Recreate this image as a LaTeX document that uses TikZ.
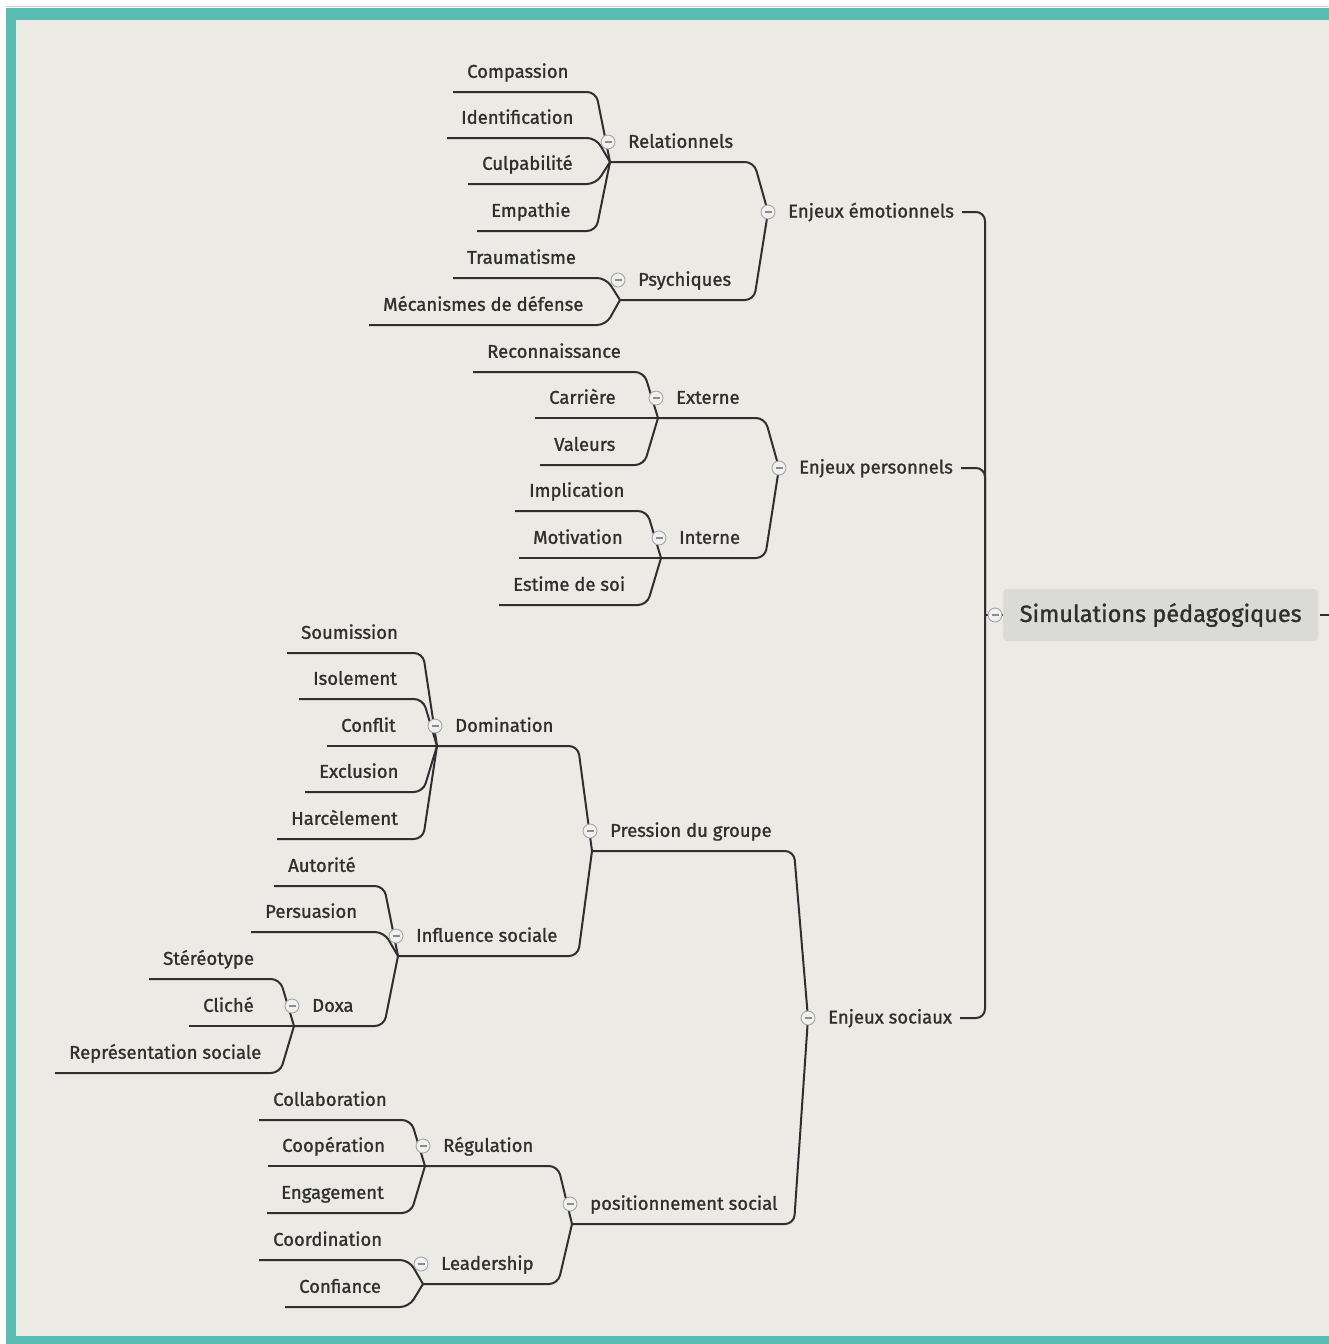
\documentclass[tikz,border=0pt]{standalone}
\usepackage{fontspec}
\setmainfont{Fira Sans}[FakeBold=1.2]
\usepackage{xcolor}
\usepackage{tikz}
\usetikzlibrary{positioning,calc}
\definecolor{paper}{HTML}{EBEAE4}
\definecolor{frame}{HTML}{5ABDB4}
\definecolor{ink}{HTML}{2F2F2F}
\definecolor{rootbox}{HTML}{DADAD7}

\begin{document}
\begin{tikzpicture}[x=1pt, y=-1pt,
    link/.style={draw=ink, line width=2pt, rounded corners=9pt},
    idea/.style={anchor=south west, font=\fontsize{18.5}{20}\selectfont, text=ink,
                 inner xsep=14pt, inner ysep=9pt, text height=14pt, text depth=5pt},
    hub/.style={idea, inner xsep=18pt},
    topic/.style={anchor=west, font=\fontsize{18.5}{20}\selectfont, text=ink,
                  inner xsep=20pt, text height=15pt, text depth=4pt},
    fold/.style={circle, draw=gray!70, fill=gray!12, line width=0.9pt, minimum size=14pt, inner sep=0pt,
                 path picture={\draw[gray!90, line width=1.2pt]
                   ([xshift=-3.5pt]path picture bounding box.center) -- ([xshift=3.5pt]path picture bounding box.center);}}]
    \useasboundingbox (0,0) rectangle (1329,1344);

    % Paper and frame
    \fill[white] (0,0) rectangle (1329,1344);
    \draw[gray!40, line width=1pt] (6,6.5) -- (1329,6.5);
    \fill[frame] (6,8) rectangle (1329,1344);
    \fill[paper] (16,20) rectangle (1329,1336);

    % Root
    \node[fill=rootbox, rounded corners=4pt, minimum width=315pt, minimum height=52pt,
          font=\fontsize{23.5}{26}\selectfont, text=ink, anchor=west] (sim) at (1003,615) {Simulations pédagogiques};
    \coordinate (trunk) at (985,615);
    \coordinate (cut) at (1329,615);
    \draw[link] ([xshift=2pt]sim.east) -- (cut);
    \draw[link] (trunk) -- (sim.west);

    % Main topics
    \node[topic] (emo) at (768,212) {Enjeux émotionnels};
    \node[topic] (perso) at (779,468) {Enjeux personnels};
    \node[topic] (soc) at (808,1018) {Enjeux sociaux};
    \draw[link] ([xshift=-12pt]emo.east) -| (trunk);
    \draw[link] ([xshift=-12pt]perso.east) -| (trunk);
    \draw[link] ([xshift=-12pt]soc.east) -| (trunk);

    % Enjeux emotionnels
    \node[hub] (rel) at (610,162) {Relationnels};
    \node[hub] (psy) at (620,300) {Psychiques};
    \draw[link] (rel.south west) -- ([xshift=-14pt]emo.west |- rel.south west) -- (emo.west);
    \draw[link] (psy.south west) -- ([xshift=-14pt]emo.west |- psy.south west) -- (emo.west);

    \node[idea] (comp) at (453,92) {Compassion};
    \node[idea] (iden) at (447,138) {Identification};
    \node[idea] (culp) at (468,184) {Culpabilité};
    \node[idea] (empa) at (477,231) {Empathie};
    \draw[link] (comp.south west) -- ([xshift=-14pt]rel.south west |- comp.south west) -- (rel.south west);
    \draw[link] (iden.south west) -- ([xshift=-14pt]rel.south west |- iden.south west) -- (rel.south west);
    \draw[link] (culp.south west) -- ([xshift=-14pt]rel.south west |- culp.south west) -- (rel.south west);
    \draw[link] (empa.south west) -- ([xshift=-14pt]rel.south west |- empa.south west) -- (rel.south west);

    \node[idea] (trau) at (453,278) {Traumatisme};
    \node[idea] (meca) at (369,325) {Mécanismes de défense};
    \draw[link] (trau.south west) -- ([xshift=-14pt]psy.south west |- trau.south west) -- (psy.south west);
    \draw[link] (meca.south west) -- ([xshift=-14pt]psy.south west |- meca.south west) -- (psy.south west);

    % Enjeux personnels
    \node[hub] (ext) at (658,418) {Externe};
    \node[hub] (int) at (661,558) {Interne};
    \draw[link] (ext.south west) -- ([xshift=-14pt]perso.west |- ext.south west) -- (perso.west);
    \draw[link] (int.south west) -- ([xshift=-14pt]perso.west |- int.south west) -- (perso.west);

    \node[idea] (reco) at (473,372) {Reconnaissance};
    \node[idea] (carr) at (535,418) {Carrière};
    \node[idea] (vale) at (540,465) {Valeurs};
    \draw[link] (reco.south west) -- ([xshift=-14pt]ext.south west |- reco.south west) -- (ext.south west);
    \draw[link] (carr.south west) -- (ext.south west);
    \draw[link] (vale.south west) -- ([xshift=-14pt]ext.south west |- vale.south west) -- (ext.south west);

    \node[idea] (impl) at (515,511) {Implication};
    \node[idea] (moti) at (519,558) {Motivation};
    \node[idea] (esti) at (499,605) {Estime de soi};
    \draw[link] (impl.south west) -- ([xshift=-14pt]int.south west |- impl.south west) -- (int.south west);
    \draw[link] (moti.south west) -- (int.south west);
    \draw[link] (esti.south west) -- ([xshift=-14pt]int.south west |- esti.south west) -- (int.south west);

    % Enjeux sociaux
    \node[hub] (pre) at (592,851) {Pression du groupe};
    \node[hub] (pos) at (572,1224) {positionnement social};
    \draw[link] (pre.south west) -- ([xshift=-14pt]soc.west |- pre.south west) -- (soc.west);
    \draw[link] (pos.south west) -- ([xshift=-14pt]soc.west |- pos.south west) -- (soc.west);

    \node[hub] (dom) at (437,746) {Domination};
    \node[hub] (inf) at (398,956) {Influence sociale};
    \draw[link] (dom.south west) -- ([xshift=-14pt]pre.south west |- dom.south west) -- (pre.south west);
    \draw[link] (inf.south west) -- ([xshift=-14pt]pre.south west |- inf.south west) -- (pre.south west);

    \node[idea] (soum) at (287,653) {Soumission};
    \node[idea] (isol) at (299,699) {Isolement};
    \node[idea] (confl) at (327,746) {Conflit};
    \node[idea] (excl) at (305,792) {Exclusion};
    \node[idea] (harc) at (277,839) {Harcèlement};
    \draw[link] (soum.south west) -- ([xshift=-14pt]dom.south west |- soum.south west) -- (dom.south west);
    \draw[link] (isol.south west) -- ([xshift=-14pt]dom.south west |- isol.south west) -- (dom.south west);
    \draw[link] (confl.south west) -- (dom.south west);
    \draw[link] (excl.south west) -- ([xshift=-14pt]dom.south west |- excl.south west) -- (dom.south west);
    \draw[link] (harc.south west) -- ([xshift=-14pt]dom.south west |- harc.south west) -- (dom.south west);

    \node[idea] (auto) at (274,886) {Autorité};
    \node[idea] (persu) at (251,932) {Persuasion};
    \node[hub] (doxa) at (294,1026) {Doxa};
    \draw[link] (auto.south west) -- ([xshift=-14pt]inf.south west |- auto.south west) -- (inf.south west);
    \draw[link] (persu.south west) -- ([xshift=-14pt]inf.south west |- persu.south west) -- (inf.south west);
    \draw[link] (doxa.south west) -- ([xshift=-14pt]inf.south west |- doxa.south west) -- (inf.south west);

    \node[idea] (ster) at (149,979) {Stéréotype};
    \node[idea] (clic) at (189,1026) {Cliché};
    \node[idea] (repr) at (55,1073) {Représentation sociale};
    \draw[link] (ster.south west) -- ([xshift=-14pt]doxa.south west |- ster.south west) -- (doxa.south west);
    \draw[link] (clic.south west) -- (doxa.south west);
    \draw[link] (repr.south west) -- ([xshift=-14pt]doxa.south west |- repr.south west) -- (doxa.south west);

    \node[hub] (reg) at (425,1166) {Régulation};
    \node[hub] (lead) at (423,1284) {Leadership};
    \draw[link] (reg.south west) -- ([xshift=-14pt]pos.south west |- reg.south west) -- (pos.south west);
    \draw[link] (lead.south west) -- ([xshift=-14pt]pos.south west |- lead.south west) -- (pos.south west);

    \node[idea] (coll) at (259,1120) {Collaboration};
    \node[idea] (coop) at (268,1166) {Coopération};
    \node[idea] (enga) at (267,1213) {Engagement};
    \draw[link] (coll.south west) -- ([xshift=-14pt]reg.south west |- coll.south west) -- (reg.south west);
    \draw[link] (coop.south west) -- (reg.south west);
    \draw[link] (enga.south west) -- ([xshift=-14pt]reg.south west |- enga.south west) -- (reg.south west);

    \node[idea] (coor) at (259,1260) {Coordination};
    \node[idea] (confi) at (285,1307) {Confiance};
    \draw[link] (coor.south west) -- ([xshift=-14pt]lead.south west |- coor.south west) -- (lead.south west);
    \draw[link] (confi.south west) -- ([xshift=-14pt]lead.south west |- confi.south west) -- (lead.south west);

    % Fold markers
    \node[fold] (simfold) at ([xshift=-8pt]sim.west) {};
    \node[fold] (emofold) at (emo.west) {};
    \node[fold] (persofold) at (perso.west) {};
    \node[fold] (socfold) at (soc.west) {};
    \node[fold] (relfold) at ([xshift=-2pt,yshift=20pt]rel.south west) {};
    \node[fold] (psyfold) at ([xshift=-2pt,yshift=20pt]psy.south west) {};
    \node[fold] (extfold) at ([xshift=-2pt,yshift=20pt]ext.south west) {};
    \node[fold] (intfold) at ([xshift=-2pt,yshift=20pt]int.south west) {};
    \node[fold] (prefold) at ([xshift=-2pt,yshift=20pt]pre.south west) {};
    \node[fold] (posfold) at ([xshift=-2pt,yshift=20pt]pos.south west) {};
    \node[fold] (domfold) at ([xshift=-2pt,yshift=20pt]dom.south west) {};
    \node[fold] (inffold) at ([xshift=-2pt,yshift=20pt]inf.south west) {};
    \node[fold] (doxafold) at ([xshift=-2pt,yshift=20pt]doxa.south west) {};
    \node[fold] (regfold) at ([xshift=-2pt,yshift=20pt]reg.south west) {};
    \node[fold] (leadfold) at ([xshift=-2pt,yshift=20pt]lead.south west) {};
\end{tikzpicture}
\end{document}
